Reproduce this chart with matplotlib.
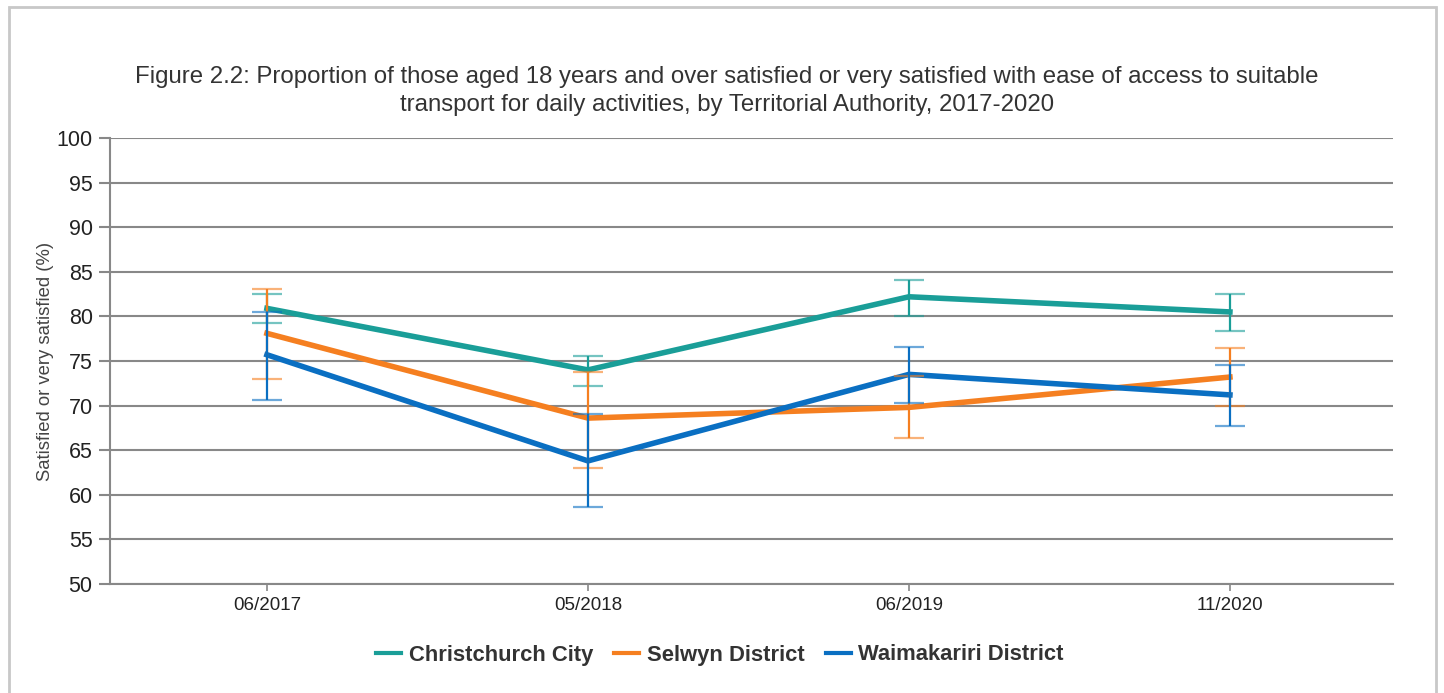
import numpy as np
import matplotlib.pyplot as plt
from matplotlib.patches import Rectangle

plt.rcParams['font.family'] = ['Liberation Sans', 'DejaVu Sans']

# Data
periods = ['06/2017', '05/2018', '06/2019', '11/2020']
series = ['Christchurch City', 'Selwyn District', 'Waimakariri District']
christchurch = [80.9, 74.0, 82.2, 80.5]
christchurch_lo = [79.3, 72.2, 80.0, 78.4]
christchurch_hi = [82.5, 75.6, 84.1, 82.5]
selwyn = [78.1, 68.6, 69.8, 73.2]
selwyn_lo = [73.0, 63.0, 66.4, 70.0]
selwyn_hi = [83.1, 73.8, 73.3, 76.5]
waimakariri = [75.7, 63.8, 73.5, 71.2]
waimakariri_lo = [70.6, 58.6, 70.3, 67.7]
waimakariri_hi = [80.5, 69.1, 76.6, 74.6]

colors = ['#1a9e98', '#f57f20', '#0a6fc2']

fig = plt.figure(figsize=(14.44, 6.93), dpi=100)
fig.patches.append(Rectangle((9 / 1444, -0.05), 1427 / 1444, 1.0 - 7 / 693 + 0.05,
                             transform=fig.transFigure, fill=False,
                             edgecolor='#c8c8c8', linewidth=2))
ax = fig.add_axes([110 / 1444, 109 / 693, 1283 / 1444, 446 / 693])

x = np.arange(len(periods))
data = [(christchurch, christchurch_lo, christchurch_hi),
        (selwyn, selwyn_lo, selwyn_hi),
        (waimakariri, waimakariri_lo, waimakariri_hi)]

for (vals, lo, hi), name, c in zip(data, series, colors):
    vals = np.array(vals)
    err = [vals - np.array(lo), np.array(hi) - vals]
    ax.plot(x, vals, color=c, linewidth=4, label=name, zorder=3,
            solid_joinstyle='miter')
    eb = ax.errorbar(x, vals, yerr=err, fmt='none', ecolor=c, elinewidth=1.6,
                     capsize=11, capthick=1.6, zorder=4)
    for cap in eb[1]:
        cap.set_alpha(0.6)

ax.set_xlim(-0.489, 3.508)
ax.set_ylim(50, 100)
ax.set_yticks(range(50, 101, 5))
ax.set_xticks(x)
ax.set_xticklabels(periods)
ax.grid(axis='y', color='#888888', linewidth=1.5)
ax.set_axisbelow(True)
for s in ['top', 'right']:
    ax.spines[s].set_visible(False)
for s in ['left', 'bottom']:
    ax.spines[s].set_color('#888888')
    ax.spines[s].set_linewidth(1.5)
ax.tick_params(axis='y', length=8, width=1.5, color='#888888', labelsize=15.5,
               labelcolor='#222222', pad=4.5)
ax.tick_params(axis='x', length=5, width=1.2, color='#888888', labelsize=13.5,
               labelcolor='#222222', pad=4)
ax.set_ylabel('Satisfied or very satisfied (%)', fontsize=13.3, color='#444444',
              labelpad=2)

fig.text(727 / 1444, 1 - 91 / 693,
         'Figure 2.2: Proportion of those aged 18 years and over satisfied or very satisfied with ease of access to suitable\n'
         'transport for daily activities, by Territorial Authority, 2017-2020',
         ha='center', va='center', fontsize=17.3, color='#333333', linespacing=1.32)

leg = fig.legend(loc='center', bbox_to_anchor=(720 / 1444, 1 - 655 / 693), ncol=3,
                 frameon=False, handlelength=1.14, handletextpad=0.35,
                 columnspacing=0.95, prop={'size': 15.8, 'weight': 'bold'})
for h in leg.get_lines():
    h.set_linewidth(3)
for t in leg.get_texts():
    t.set_color('#333333')

fig.savefig('out.png', dpi=100)
